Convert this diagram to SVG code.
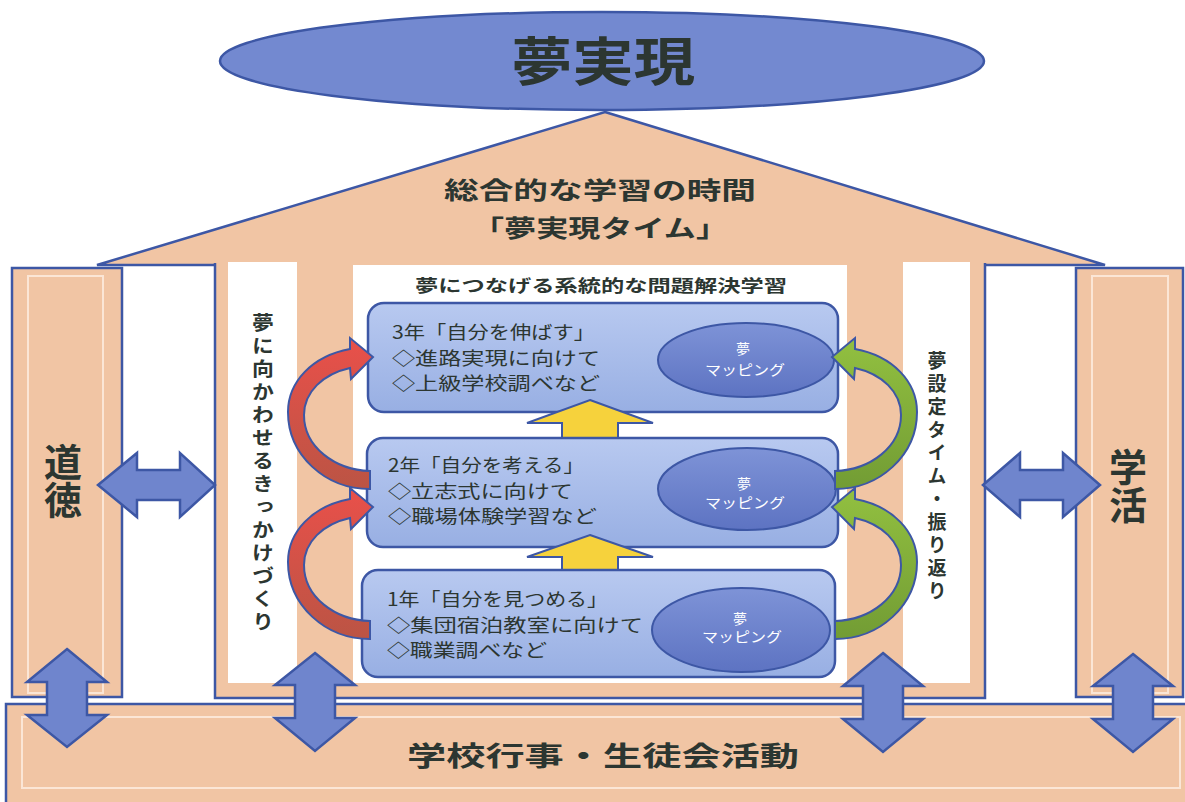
<svg xmlns="http://www.w3.org/2000/svg" xmlns:xlink="http://www.w3.org/1999/xlink" width="1185" height="802" viewBox="0 0 1185 802">
<style>
.peach{fill:#f1c5a4}
.bl{stroke:#3d57a5;stroke-width:2.5}
.inner{fill:none;stroke:#fbe6d6;stroke-width:2}
.dark{fill:#2c3631;font-family:"Noto Sans CJK JP","Noto Sans",sans-serif}
.b{font-weight:700}
.box{fill:url(#boxG);stroke:#3d57a5;stroke-width:2.5}
.mell{fill:url(#ellG);stroke:#3d57a5;stroke-width:2}
.wt{fill:#ffffff;font-family:"Noto Sans CJK JP","Noto Sans",sans-serif;text-anchor:middle}
.darr{fill:#6f85cd;stroke:#3d57a5;stroke-width:2.5;stroke-linejoin:miter}
.yarr{fill:#f6d23c;stroke:#3d57a5;stroke-width:2}
.vt{writing-mode:vertical-rl;font-size:19px;letter-spacing:4px;font-weight:700}
.pv{writing-mode:vertical-rl;font-size:38px;font-weight:700}
</style>
<defs>
<linearGradient id="boxG" x1="0" y1="0" x2="0" y2="1">
<stop offset="0" stop-color="#b8c9f0"/>
<stop offset="1" stop-color="#98afe3"/>
</linearGradient>
<linearGradient id="ellG" x1="0" y1="0" x2="0" y2="1">
<stop offset="0" stop-color="#7e93d7"/>
<stop offset="1" stop-color="#5d73c2"/>
</linearGradient>
<linearGradient id="redG" x1="0" y1="0" x2="0" y2="1">
<stop offset="0" stop-color="#e9504a"/>
<stop offset="1" stop-color="#bb5444"/>
</linearGradient>
<linearGradient id="grnG" x1="0" y1="0" x2="0" y2="1">
<stop offset="0" stop-color="#92c040"/>
<stop offset="1" stop-color="#729c34"/>
</linearGradient>
<path id="curve" d="M370,471 C335,470 304,447 304,415 C304,392 323,374 350,368 L351,379 L373,357 L350,338 L350,349 C312,356 288,382 288,412 C288,455 325,489 370,489 Z"/>
</defs>
<rect x="0" y="0" width="1185" height="802" fill="#ffffff"/>

<g id="top-goal">
<ellipse cx="602" cy="61" rx="382" ry="49" fill="#7389d0" stroke="#3d57a5" stroke-width="2.5"/>
<text x="603" y="81" class="dark b" font-size="52" text-anchor="middle" textLength="184" lengthAdjust="spacingAndGlyphs">夢実現</text>
</g>

<g id="roof">
<polygon points="605,112 1105,265 97,265" class="peach bl"/>
<text x="600" y="199" class="dark b" font-size="24" text-anchor="middle" textLength="312" lengthAdjust="spacingAndGlyphs">総合的な学習の時間</text>
<text x="600" y="237" class="dark b" font-size="24" text-anchor="middle" textLength="256" lengthAdjust="spacingAndGlyphs">「夢実現タイム」</text>
</g>

<g id="bottom-band">
<rect x="6" y="704" width="1190" height="110" class="peach bl"/>
<rect x="22" y="717" width="1158" height="71" class="inner"/>
<text x="603" y="766" class="dark b" font-size="27" text-anchor="middle" textLength="392" lengthAdjust="spacingAndGlyphs">学校行事・生徒会活動</text>
</g>

<g id="main-body">
<rect x="215" y="263" width="770" height="435" class="peach"/>
<path d="M215,263 V698 H985 V263" fill="none" class="bl"/>
<rect x="228" y="262" width="69" height="421" fill="#ffffff"/>
<rect x="353" y="265" width="494" height="418" fill="#ffffff"/>
<rect x="903" y="262" width="67" height="421" fill="#ffffff"/>
<text x="601" y="292" class="dark b" font-size="17" text-anchor="middle" textLength="372" lengthAdjust="spacingAndGlyphs">夢につなげる系統的な問題解決学習</text>
</g>

<g id="left-pillar">
<rect x="12" y="268" width="110" height="429" class="peach bl"/>
<rect x="28" y="276" width="75" height="417" class="inner"/>
<text x="63" y="443" class="dark pv">道徳</text>
</g>

<g id="right-pillar">
<rect x="1076" y="268" width="107" height="429" class="peach bl"/>
<rect x="1092" y="276" width="76" height="417" class="inner"/>
<text x="1128" y="448" class="dark pv">学活</text>
</g>

<g id="left-vertical-label">
<text x="263" y="313" class="dark vt" transform="translate(263,0) scale(1.15,1) translate(-263,0)">夢に向かわせるきっかけづくり</text>
</g>
<g id="right-vertical-label">
<text x="937" y="351" class="dark vt">夢設定タイム・振り返り</text>
</g>

<g id="year3">
<rect x="368" y="303" width="470" height="109" rx="16" class="box"/>
<ellipse cx="746" cy="360" rx="88" ry="37" class="mell"/>
<text x="392" y="339" class="dark" font-size="18" textLength="203" lengthAdjust="spacingAndGlyphs">3年「自分を伸ばす」</text>
<text x="392" y="365" class="dark" font-size="18" textLength="208" lengthAdjust="spacingAndGlyphs">◇進路実現に向けて</text>
<text x="392" y="390" class="dark" font-size="18" textLength="208" lengthAdjust="spacingAndGlyphs">◇上級学校調べなど</text>
<text x="743" y="354" class="wt" font-size="14">夢</text>
<text x="745" y="375" class="wt" font-size="14" textLength="80" lengthAdjust="spacingAndGlyphs">マッピング</text>
</g>

<path id="up-arrow-1" class="yarr" d="M590,400 L653,423 L618,423 L618,444 L562,444 L562,423 L527,423 Z"/>

<g id="year2">
<rect x="367" y="438" width="471" height="109" rx="16" class="box"/>
<ellipse cx="747" cy="489" rx="89" ry="41" class="mell"/>
<text x="388" y="472" class="dark" font-size="18" textLength="196" lengthAdjust="spacingAndGlyphs">2年「自分を考える」</text>
<text x="388" y="498" class="dark" font-size="18" textLength="185" lengthAdjust="spacingAndGlyphs">◇立志式に向けて</text>
<text x="388" y="523" class="dark" font-size="18" textLength="209" lengthAdjust="spacingAndGlyphs">◇職場体験学習など</text>
<text x="744" y="489" class="wt" font-size="14">夢</text>
<text x="745" y="508" class="wt" font-size="14" textLength="80" lengthAdjust="spacingAndGlyphs">マッピング</text>
</g>

<path id="up-arrow-2" class="yarr" d="M590,535 L653,557 L618,557 L618,577 L562,577 L562,557 L527,557 Z"/>

<g id="year1">
<rect x="362" y="570" width="473" height="107" rx="16" class="box"/>
<ellipse cx="741" cy="630" rx="89" ry="42" class="mell"/>
<text x="387" y="606" class="dark" font-size="18" textLength="221" lengthAdjust="spacingAndGlyphs">1年「自分を見つめる」</text>
<text x="387" y="632" class="dark" font-size="18" textLength="256" lengthAdjust="spacingAndGlyphs">◇集団宿泊教室に向けて</text>
<text x="387" y="657" class="dark" font-size="18" textLength="160" lengthAdjust="spacingAndGlyphs">◇職業調べなど</text>
<text x="740" y="624" class="wt" font-size="14">夢</text>
<text x="742" y="642" class="wt" font-size="14" textLength="80" lengthAdjust="spacingAndGlyphs">マッピング</text>
</g>

<g id="connectors">
<use xlink:href="#curve" fill="url(#redG)" stroke="#3d57a5" stroke-width="2"/>
<use xlink:href="#curve" transform="translate(0,150)" fill="url(#redG)" stroke="#3d57a5" stroke-width="2"/>
<use xlink:href="#curve" transform="translate(1205,0) scale(-1,1)" fill="url(#grnG)" stroke="#3d57a5" stroke-width="2"/>
<use xlink:href="#curve" transform="translate(1205,150) scale(-1,1)" fill="url(#grnG)" stroke="#3d57a5" stroke-width="2"/>
<path class="darr" d="M98,485 L137,453 L137,470 L180,470 L180,453 L215,485 L180,517 L180,500 L137,500 L137,517 Z"/>
<path class="darr" d="M983,485 L1020,453 L1020,470 L1063,470 L1063,453 L1100,485 L1063,517 L1063,500 L1020,500 L1020,517 Z"/>
<path class="darr" d="M67,649 L107,682 L87,682 L87,715 L107,715 L67,747 L27,715 L47,715 L47,682 L27,682 Z"/>
<path class="darr" d="M315,653 L355,685 L335,685 L335,718 L355,718 L315,751 L275,718 L295,718 L295,685 L275,685 Z"/>
<path class="darr" d="M883,653 L923,686 L903,686 L903,719 L923,719 L883,752 L843,719 L863,719 L863,686 L843,686 Z"/>
<path class="darr" d="M1133,654 L1173,686 L1153,686 L1153,719 L1173,719 L1133,752 L1093,719 L1113,719 L1113,686 L1093,686 Z"/>
</g>
</svg>
